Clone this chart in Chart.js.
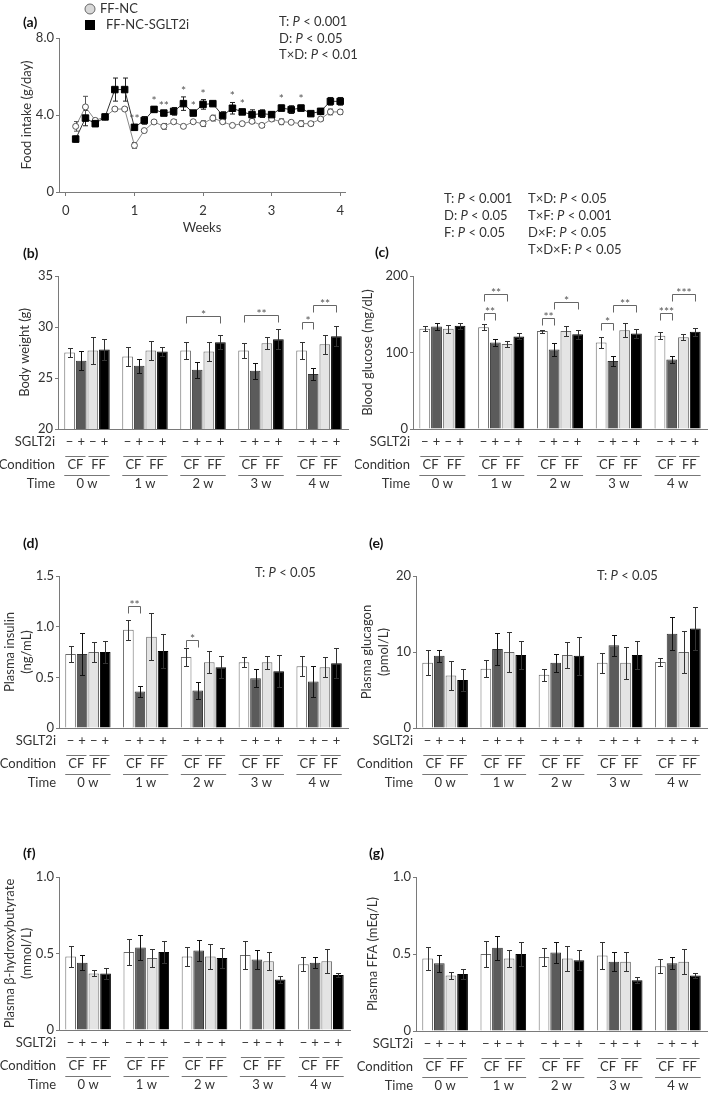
<!DOCTYPE html>
<html>
<head>
<meta charset="utf-8">
<script src="https://cdn.jsdelivr.net/npm/chart.js@4.4.1/dist/chart.umd.min.js"></script>
<style>
  body { margin: 0; background: #fff; width: 709px; height: 1094px; position: relative; overflow: hidden; }
  canvas { position: absolute; }
</style>
</head>
<body>
<canvas id="cA" width="380" height="240" style="left:0;top:0"></canvas>
<canvas id="cB" width="355" height="250" style="left:0;top:240px"></canvas>
<canvas id="cC" width="354" height="305" style="left:355px;top:185px"></canvas>
<canvas id="cD" width="355" height="265" style="left:0;top:530px"></canvas>
<canvas id="cE" width="354" height="265" style="left:355px;top:530px"></canvas>
<canvas id="cF" width="355" height="254" style="left:0;top:840px"></canvas>
<canvas id="cG" width="354" height="254" style="left:355px;top:840px"></canvas>
<script>
// ==========================================
// DATA
// ==========================================

// (a) daily food intake (g/day), day 1..28
const foodDays = [1, 2, 3, 4, 5, 6, 7, 8, 9, 10, 11, 12, 13, 14, 15, 16, 17, 18, 19, 20, 21, 22, 23, 24, 25, 26, 27, 28];
const ncFood = [3.41, 4.42, 3.72, 3.9, 4.31, 4.31, 2.42, 3.19, 3.64, 3.41, 3.65, 3.41, 3.65, 3.55, 3.84, 3.65, 3.46, 3.55, 3.67, 3.46, 3.79, 3.65, 3.62, 3.55, 3.55, 3.79, 4.16, 4.16];
const ncFoodErr = [0.25, 0.55, 0.1, 0.1, 0.08, 0.08, 0.15, 0.1, 0.08, 0.15, 0.1, 0.1, 0.08, 0.15, 0.15, 0.1, 0.08, 0.08, 0.1, 0.1, 0.1, 0.15, 0.08, 0.15, 0.1, 0.08, 0.15, 0.12];
const sgFood = [2.75, 3.84, 3.55, 3.9, 5.32, 5.32, 3.36, 3.72, 4.29, 4.1, 4.19, 4.59, 4.1, 4.55, 4.59, 3.97, 4.35, 4.16, 4.02, 4.07, 4.02, 4.36, 4.28, 4.36, 4.07, 4.19, 4.71, 4.71];
const sgFoodErr = [0.15, 0.4, 0.15, 0.1, 0.6, 0.6, 0.12, 0.2, 0.15, 0.08, 0.2, 0.35, 0.08, 0.25, 0.12, 0.2, 0.3, 0.12, 0.25, 0.2, 0.15, 0.15, 0.2, 0.15, 0.12, 0.15, 0.2, 0.2];
const foodStars = [[7, '**'], [9, '*'], [10, '**'], [12, '*'], [13, '*'], [14, '*'], [17, '*'], [18, '*'], [22, '*'], [24, '*']];
const foodXTicks = [0, 1, 2, 3, 4];
const foodYTicks = [0, 4, 8];
const foodStats = ['T: P < 0.001', 'D: P < 0.05', 'T×D: P < 0.01'];

// shared layout of the bar panels
const weekLabels = ['0 w', '1 w', '2 w', '3 w', '4 w'];
const sgltSigns = ['−', '+', '−', '+'];
const condLabels = ['CF', 'FF'];
const seriesNames = ['CF', 'CF + SGLT2i', 'FF', 'FF + SGLT2i'];
const rowLabels = ['SGLT2i', 'Condition', 'Time'];

// (b) body weight (g)  [series][week]
const bwMean = [
    [27.5, 27.1, 27.7, 27.7, 27.7],
    [26.7, 26.2, 25.8, 25.7, 25.4],
    [27.7, 27.7, 27.6, 28.4, 28.3],
    [27.8, 27.6, 28.5, 28.8, 29.1]
];
const bwErr = [
    [0.4, 0.9, 0.8, 0.7, 0.8],
    [0.9, 0.7, 0.8, 0.8, 0.6],
    [1.3, 0.9, 0.9, 0.6, 0.9],
    [1.0, 0.4, 0.7, 1.0, 1.0]
];
const bwTicks = [20, 25, 30, 35];
const bwSig = [
    { week: 2, from: 0, to: 3, y: 31.1, text: '*' },
    { week: 3, from: 0, to: 3, y: 31.2, text: '**' },
    { week: 4, from: 0, to: 1, y: 30.5, text: '*' },
    { week: 4, from: 1, to: 3, y: 32.2, text: '**' }
];

// (c) blood glucose (mg/dL)
const bgMean = [
    [131, 133, 128, 113, 122],
    [134, 113, 104, 89, 91],
    [131, 111, 128, 129, 120],
    [135, 121, 124, 125, 127]
];
const bgErr = [
    [3, 4, 2, 7, 5],
    [5, 5, 8, 7, 5],
    [5, 4, 6, 9, 4],
    [4, 4, 6, 6, 5]
];
const bgTicks = [0, 100, 200];
const bgSig = [
    { week: 1, from: 0, to: 1, y: 152, text: '**' },
    { week: 1, from: 0, to: 2, y: 176, text: '**' },
    { week: 2, from: 0, to: 1, y: 145, text: '**' },
    { week: 2, from: 1, to: 3, y: 166, text: '*' },
    { week: 3, from: 0, to: 1, y: 139, text: '*' },
    { week: 3, from: 1, to: 3, y: 162, text: '**' },
    { week: 4, from: 0, to: 1, y: 151, text: '***' },
    { week: 4, from: 1, to: 3, y: 177, text: '***' }
];
const bgStats1 = ['T: P < 0.001', 'D: P < 0.05', 'F: P < 0.05'];
const bgStats2 = ['T×D: P < 0.05', 'T×F: P < 0.001', 'D×F: P < 0.05', 'T×D×F: P < 0.05'];

// (d) plasma insulin (ng/mL)
const insMean = [
    [0.73, 0.97, 0.70, 0.65, 0.61],
    [0.73, 0.36, 0.37, 0.49, 0.46],
    [0.75, 0.90, 0.65, 0.65, 0.60],
    [0.75, 0.76, 0.60, 0.56, 0.64]
];
const insErr = [
    [0.08, 0.10, 0.09, 0.05, 0.10],
    [0.21, 0.05, 0.08, 0.09, 0.15],
    [0.10, 0.23, 0.11, 0.065, 0.10],
    [0.11, 0.17, 0.11, 0.16, 0.15]
];
const insTicks = [0, 0.5, 1.0, 1.5];
const insSig = [
    { week: 1, from: 0, to: 1, y: 1.2, text: '**' },
    { week: 2, from: 0, to: 1, y: 0.87, text: '*' }
];

// (e) plasma glucagon (pmol/L)
const gcgMean = [
    [8.6, 7.8, 7.0, 8.6, 8.7],
    [9.5, 10.4, 8.6, 10.9, 12.4],
    [6.9, 10.0, 9.6, 8.6, 10.0],
    [6.3, 9.6, 9.5, 9.6, 13.1]
];
const gcgErr = [
    [1.6, 1.1, 0.8, 1.3, 0.55],
    [0.8, 2.1, 1.2, 1.4, 2.2],
    [1.9, 2.6, 1.7, 2.1, 2.7],
    [1.4, 1.9, 2.5, 1.8, 2.8]
];
const gcgTicks = [0, 10, 20];

// (f) plasma beta-hydroxybutyrate (mmol/L)
const bhbMean = [
    [0.48, 0.51, 0.48, 0.49, 0.43],
    [0.44, 0.54, 0.52, 0.46, 0.44],
    [0.37, 0.47, 0.48, 0.45, 0.45],
    [0.37, 0.51, 0.47, 0.33, 0.36]
];
const bhbErr = [
    [0.07, 0.085, 0.06, 0.09, 0.045],
    [0.05, 0.08, 0.07, 0.06, 0.035],
    [0.02, 0.06, 0.08, 0.06, 0.08],
    [0.035, 0.07, 0.065, 0.02, 0.015]
];

// (g) plasma FFA (mEq/L)
const ffaMean = [
    [0.47, 0.50, 0.48, 0.49, 0.42],
    [0.44, 0.54, 0.51, 0.45, 0.44],
    [0.36, 0.47, 0.47, 0.45, 0.45],
    [0.37, 0.50, 0.46, 0.33, 0.36]
];
const ffaErr = [
    [0.075, 0.085, 0.06, 0.09, 0.045],
    [0.055, 0.08, 0.07, 0.06, 0.038],
    [0.025, 0.056, 0.08, 0.06, 0.08],
    [0.032, 0.075, 0.065, 0.02, 0.016]
];
const fracTicks = [0, 0.5, 1.0];

// ==========================================
// STYLE
// ==========================================

const FONT = 'Lato';
const FS = 13;
const TEXT = '#333';
const AXIS = '#7a7a7a';
const barFill = ['#ffffff', '#5b5b5b', '#e4e4e4', '#000000'];
const barEdge = ['#6a6a6a', '#333333', '#6a6a6a', '#000000'];

Chart.defaults.font.family = FONT;
Chart.defaults.font.size = FS;
Chart.defaults.color = TEXT;

const fmtTick = v => (v === 0 ? '0' : (Number.isInteger(v) && v >= 10 ? String(v) : v.toFixed(1)));

// ==========================================
// PLUGINS
// ==========================================

function drawStat(ctx, s, x, y) {
    const k = s.indexOf('P <');
    const parts = [[s.slice(0, k), ''], ['P', 'italic '], [s.slice(k + 1), '']];
    let cx = x;
    parts.forEach(([t, st]) => {
        ctx.font = `${st}${FS}px ${FONT}`;
        ctx.fillText(t, cx, y);
        cx += ctx.measureText(t).width;
    });
}

// panel letter + statistics text
const panelText = {
    id: 'panelText',
    afterDraw(chart, args, o) {
        const { ctx } = chart;
        ctx.save();
        ctx.fillStyle = '#111';
        ctx.textBaseline = 'middle';
        ctx.textAlign = 'left';
        if (o.letter) {
            ctx.font = `bold 14px ${FONT}`;
            ctx.fillText(o.letter[0], o.letter[1], o.letter[2]);
        }
        ctx.fillStyle = TEXT;
        (o.stats || []).forEach(col => {
            col.lines.forEach((s, i) => drawStat(ctx, s, col.x, col.y + i * col.dy));
        });
        ctx.restore();
    }
};

// error bars, significance brackets and the SGLT2i / Condition / Time rows
const barExtras = {
    id: 'barExtras',
    afterDatasetsDraw(chart, args, o) {
        const { ctx, chartArea: ca, scales: { y } } = chart;
        const metas = chart.data.datasets.map((d, i) => chart.getDatasetMeta(i));
        ctx.save();
        ctx.lineWidth = 1;

        metas.forEach((m, si) => m.data.forEach((bar, wi) => {
            const v = o.mean[si][wi], e = o.err[si][wi];
            const x = Math.round(bar.x) + 0.5;
            const t = Math.round(y.getPixelForValue(v + e)) + 0.5;
            const b = Math.round(y.getPixelForValue(v - e)) + 0.5;
            ctx.strokeStyle = si === 1 ? '#111' : '#333';
            ctx.beginPath();
            ctx.moveTo(x, t); ctx.lineTo(x, b);
            ctx.moveTo(x - 2.5, t); ctx.lineTo(x + 2.5, t);
            ctx.moveTo(x - 2.5, b); ctx.lineTo(x + 2.5, b);
            ctx.stroke();
        }));

        ctx.textAlign = 'center';
        (o.sig || []).forEach(s => {
            const xa = Math.round(metas[s.from].data[s.week].x) + 0.5;
            const xb = Math.round(metas[s.to].data[s.week].x) + 0.5;
            const py = Math.round(y.getPixelForValue(s.y)) + 0.5;
            ctx.strokeStyle = '#666';
            ctx.beginPath();
            ctx.moveTo(xa, py + 7); ctx.lineTo(xa, py); ctx.lineTo(xb, py); ctx.lineTo(xb, py + 7);
            ctx.stroke();
            ctx.fillStyle = '#555';
            ctx.font = `12px ${FONT}`;
            ctx.textBaseline = 'alphabetic';
            ctx.fillText(s.text, (xa + xb) / 2, py + 2);
        });

        const base = ca.bottom;
        const rows = [base + 13, base + 36, base + 55];
        ctx.fillStyle = TEXT;
        ctx.strokeStyle = '#777';
        ctx.font = `${FS}px ${FONT}`;
        ctx.textBaseline = 'middle';
        weekLabels.forEach((w, wi) => {
            const bars = metas.map(m => m.data[wi]);
            bars.forEach((b, si) => ctx.fillText(sgltSigns[si], b.x, rows[0]));
            condLabels.forEach((c, p) => {
                const l = bars[2 * p].x - bars[2 * p].width / 2 + 1;
                const r = bars[2 * p + 1].x + bars[2 * p + 1].width / 2 - 1;
                ctx.beginPath(); ctx.moveTo(l, base + 27.5); ctx.lineTo(r, base + 27.5); ctx.stroke();
                ctx.fillText(c, (l + r) / 2, rows[1]);
            });
            const l = bars[0].x - bars[0].width / 2, r = bars[3].x + bars[3].width / 2;
            ctx.beginPath(); ctx.moveTo(l, base + 46.5); ctx.lineTo(r, base + 46.5); ctx.stroke();
            ctx.fillText(w, (l + r) / 2, rows[2]);
        });
        ctx.textAlign = 'right';
        rowLabels.forEach((t, k) => ctx.fillText(t, ca.left - 3, rows[k]));
        ctx.restore();
    }
};

// error bars, stars and legend of the food intake panel
const foodExtras = {
    id: 'foodExtras',
    beforeDatasetsDraw(chart, args, o) {
        const { ctx, scales: { y } } = chart;
        ctx.save();
        ctx.lineWidth = 1;
        o.series.forEach(([di, vals, errs, col]) => {
            const meta = chart.getDatasetMeta(di);
            ctx.strokeStyle = col;
            meta.data.forEach((pt, i) => {
                const x = Math.round(pt.x) + 0.5;
                const t = y.getPixelForValue(vals[i] + errs[i]);
                const b = y.getPixelForValue(vals[i] - errs[i]);
                ctx.beginPath();
                ctx.moveTo(x, t); ctx.lineTo(x, b);
                ctx.moveTo(x - 2.5, t); ctx.lineTo(x + 2.5, t);
                ctx.moveTo(x - 2.5, b); ctx.lineTo(x + 2.5, b);
                ctx.stroke();
            });
        });
        ctx.restore();
    },
    afterDatasetsDraw(chart, args, o) {
        const { ctx, scales: { x, y } } = chart;
        ctx.save();
        ctx.fillStyle = '#555';
        ctx.font = `12px ${FONT}`;
        ctx.textAlign = 'center';
        ctx.textBaseline = 'alphabetic';
        foodStars.forEach(([day, txt]) => {
            const i = foodDays.indexOf(day);
            const top = Math.max(sgFood[i] + sgFoodErr[i], ncFood[i] + ncFoodErr[i]);
            ctx.fillText(txt, x.getPixelForValue(day / 7), y.getPixelForValue(top) - 2);
        });
        // legend
        ctx.fillStyle = '#d8d8d8';
        ctx.strokeStyle = '#666';
        ctx.beginPath(); ctx.arc(90, 9, 5, 0, Math.PI * 2); ctx.fill(); ctx.stroke();
        ctx.fillStyle = '#000';
        ctx.fillRect(85, 20, 10, 10);
        ctx.fillStyle = TEXT;
        ctx.font = `${FS}px ${FONT}`;
        ctx.textAlign = 'left';
        ctx.textBaseline = 'middle';
        ctx.fillText('FF-NC', 100, 9);
        ctx.fillText('FF-NC-SGLT2i', 106, 25);
        ctx.restore();
    }
};

// ==========================================
// CHART INITIALIZERS
// ==========================================

function yScale(cfg) {
    return {
        min: cfg.ticks[0],
        max: cfg.ticks[cfg.ticks.length - 1],
        afterBuildTicks: s => { s.ticks = cfg.ticks.map(v => ({ value: v })); },
        afterFit: s => { s.width = cfg.yw; },
        ticks: { callback: fmtTick, padding: 2, color: TEXT, font: { size: FS } },
        grid: { drawOnChartArea: false, tickLength: 3, color: AXIS },
        border: { color: AXIS },
        title: {
            display: true,
            text: cfg.title,
            color: TEXT,
            font: { size: FS, lineHeight: cfg.lh || 1.2 },
            padding: { top: cfg.tpad, bottom: 0 }
        }
    };
}

function initBarChart(id, cfg) {
    const ctx = document.getElementById(id).getContext('2d');
    return new Chart(ctx, {
        type: 'bar',
        data: {
            labels: weekLabels,
            datasets: cfg.mean.map((vals, i) => ({
                label: seriesNames[i],
                data: vals,
                backgroundColor: barFill[i],
                borderColor: barEdge[i],
                borderWidth: 1,
                categoryPercentage: 0.8,
                barPercentage: 0.92
            }))
        },
        options: {
            responsive: false,
            animation: false,
            events: [],
            layout: { padding: { top: cfg.top, right: cfg.right, left: 0, bottom: 0 } },
            plugins: {
                legend: { display: false },
                tooltip: { enabled: false },
                barExtras: { mean: cfg.mean, err: cfg.err, sig: cfg.sig },
                panelText: { letter: cfg.letter, stats: cfg.stats }
            },
            scales: {
                x: {
                    grid: { display: false },
                    ticks: { display: false },
                    border: { color: AXIS },
                    afterFit: s => { s.height = cfg.xh; }
                },
                y: yScale(cfg)
            }
        },
        plugins: [barExtras, panelText]
    });
}

function initFoodChart() {
    const ctx = document.getElementById('cA').getContext('2d');
    const pts = vals => foodDays.map((d, i) => ({ x: d / 7, y: vals[i] }));
    return new Chart(ctx, {
        type: 'line',
        data: {
            datasets: [{
                label: 'FF-NC-SGLT2i',
                data: pts(sgFood),
                borderColor: '#333',
                borderWidth: 1,
                pointStyle: 'rect',
                pointRadius: 4.6,
                pointBackgroundColor: '#000',
                pointBorderColor: '#000',
                pointBorderWidth: 1
            }, {
                label: 'FF-NC',
                data: pts(ncFood),
                borderColor: '#888',
                borderWidth: 1,
                pointStyle: 'circle',
                pointRadius: 3,
                pointBackgroundColor: '#fff',
                pointBorderColor: '#555',
                pointBorderWidth: 1
            }]
        },
        options: {
            responsive: false,
            animation: false,
            events: [],
            layout: { padding: { top: 38, right: 35, left: 0, bottom: 0 } },
            plugins: {
                legend: { display: false },
                tooltip: { enabled: false },
                foodExtras: {
                    series: [[0, sgFood, sgFoodErr, '#222'], [1, ncFood, ncFoodErr, '#555']]
                },
                panelText: {
                    letter: ['(a)', 23, 22],
                    stats: [{ x: 279, y: 22, dy: 16.5, lines: foodStats }]
                }
            },
            scales: {
                x: {
                    type: 'linear',
                    min: -0.1,
                    max: 4.07,
                    afterBuildTicks: s => { s.ticks = foodXTicks.map(v => ({ value: v })); },
                    afterFit: s => { s.height = 48; },
                    ticks: { padding: 7, color: TEXT },
                    grid: { drawOnChartArea: false, tickLength: 4, color: AXIS },
                    border: { color: AXIS },
                    title: { display: true, text: 'Weeks', color: TEXT, padding: { top: 0, bottom: 4 } }
                },
                y: yScale({ ticks: foodYTicks, yw: 59, title: 'Food intake (g/day)', tpad: 19 })
            }
        },
        plugins: [foodExtras, panelText]
    });
}

initFoodChart();

initBarChart('cB', {
    mean: bwMean, err: bwErr, sig: bwSig, ticks: bwTicks,
    title: 'Body weight (g)', tpad: 17, yw: 58, xh: 61, top: 36, right: 7,
    letter: ['(b)', 23, 13]
});

initBarChart('cC', {
    mean: bgMean, err: bgErr, sig: bgSig, ticks: bgTicks,
    title: 'Blood glucose (mg/dL)', tpad: 5, yw: 58, xh: 61, top: 91, right: 2,
    letter: ['(c)', 20, 67],
    stats: [{ x: 89, y: 14, dy: 17, lines: bgStats1 }, { x: 173, y: 14, dy: 17, lines: bgStats2 }]
});

initBarChart('cD', {
    mean: insMean, err: insErr, sig: insSig, ticks: insTicks,
    title: ['Plasma insulin', '(ng/mL)'], lh: 1.3, tpad: 1.5, yw: 59, xh: 67, top: 46, right: 7,
    letter: ['(d)', 23, 13],
    stats: [{ x: 255, y: 43, dy: 17, lines: ['T: P < 0.05'] }]
});

initBarChart('cE', {
    mean: gcgMean, err: gcgErr, ticks: gcgTicks,
    title: ['Plasma glucagon', '(pmol/L)'], lh: 1.25, tpad: 4, yw: 61, xh: 67, top: 46, right: 2,
    letter: ['(e)', 14, 13],
    stats: [{ x: 242, y: 46, dy: 17, lines: ['T: P < 0.05'] }]
});

initBarChart('cF', {
    mean: bhbMean, err: bhbErr, ticks: fracTicks,
    title: ['Plasma β-hydroxybutyrate', '(mmol/L)'], lh: 1.3, tpad: 1.5, yw: 59, xh: 64, top: 37, right: 5,
    letter: ['(f)', 23, 13]
});

initBarChart('cG', {
    mean: ffaMean, err: ffaErr, ticks: fracTicks,
    title: 'Plasma FFA (mEq/L)', tpad: 10, yw: 61, xh: 63, top: 37, right: 2,
    letter: ['(g)', 14, 13]
});
</script>
</body>
</html>
